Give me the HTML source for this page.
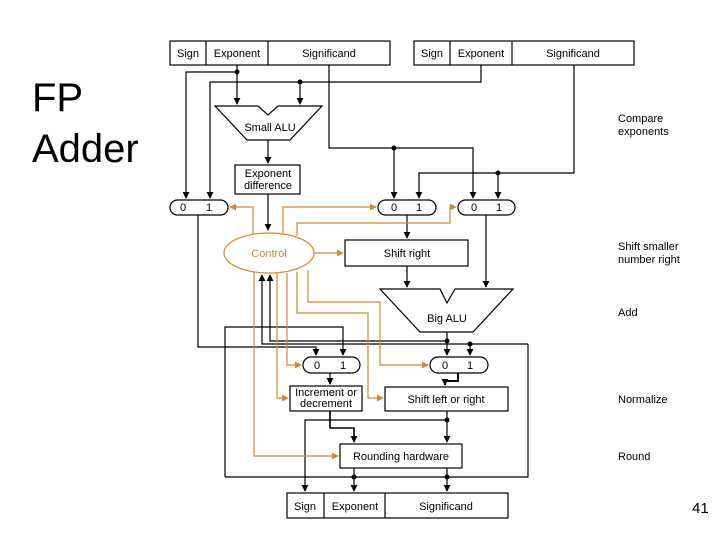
<!DOCTYPE html>
<html><head><meta charset="utf-8"><style>
html,body{margin:0;padding:0;background:#fff;}
svg{display:block;font-family:"Liberation Sans",sans-serif;}
</style></head><body>
<svg width="720" height="540" viewBox="0 0 720 540">
<defs>
<marker id="a" viewBox="0 0 8 8" refX="7" refY="4" markerWidth="7" markerHeight="7" markerUnits="userSpaceOnUse" orient="auto"><path d="M0,0L8,4L0,8z" fill="#000"/></marker>
<marker id="o" viewBox="0 0 8 8" refX="7" refY="4" markerWidth="7" markerHeight="7" markerUnits="userSpaceOnUse" orient="auto"><path d="M0,0L8,4L0,8z" fill="#d4882e"/></marker>
</defs>
<text x="32" y="111" font-size="40">FP</text>
<text x="32" y="162" font-size="40">Adder</text>
<g font-size="11">
<text x="618" y="122">Compare</text><text x="618" y="135">exponents</text>
<text x="618" y="250">Shift smaller</text><text x="618" y="263">number right</text>
<text x="618" y="316">Add</text>
<text x="618" y="403">Normalize</text>
<text x="618" y="460">Round</text>
</g>
<text x="692" y="513" font-size="15">41</text>

<g fill="none" stroke="#000" stroke-width="1.2">
<rect x="170" y="41" width="220" height="24"/><line x1="206" y1="41" x2="206" y2="65"/><line x1="268" y1="41" x2="268" y2="65"/>
<rect x="414" y="41" width="220" height="24"/><line x1="450" y1="41" x2="450" y2="65"/><line x1="512" y1="41" x2="512" y2="65"/>
<rect x="287" y="493" width="221" height="25"/><line x1="324" y1="493" x2="324" y2="518"/><line x1="385" y1="493" x2="385" y2="518"/>
<path d="M215,106 L258,106 L268,115 L278,106 L322,106 L290,140 L247,140 Z"/>
<rect x="235" y="165" width="65" height="29"/>
<rect x="170" y="200" width="58" height="15" rx="7.5"/>
<rect x="378" y="200" width="58" height="15" rx="7.5"/>
<rect x="458" y="200" width="57" height="15" rx="7.5"/>
<rect x="303" y="357" width="57" height="16" rx="8"/>
<rect x="430" y="357" width="58" height="16" rx="8"/>
<rect x="345" y="240" width="123" height="26"/>
<path d="M380,289 L440,289 L447,303 L455,289 L513,289 L473,332 L420,332 Z"/>
<rect x="290" y="386" width="72" height="25"/>
<rect x="385" y="387" width="123" height="24"/>
<rect x="340" y="444" width="122" height="24"/>
<path d="M237,65 V72 H186 V198" marker-end="url(#a)"/>
<path d="M237,72 V104" marker-end="url(#a)"/>
<path d="M481,65 V82 H210 V198" marker-end="url(#a)"/>
<path d="M300,82 V104" marker-end="url(#a)"/>
<path d="M268,140 V163" marker-end="url(#a)"/>
<path d="M268,194 V230" marker-end="url(#a)"/>
<path d="M329,65 V148 H473 V198" marker-end="url(#a)"/>
<path d="M394,148 V198" marker-end="url(#a)"/>
<path d="M574,65 V173 H419 V198" marker-end="url(#a)"/>
<path d="M498,173 V198" marker-end="url(#a)"/>
<path d="M407,215 V238" marker-end="url(#a)"/>
<path d="M407,266 V287" marker-end="url(#a)"/>
<path d="M486,215 V287" marker-end="url(#a)"/>
<path d="M198,215 V347 H316 V355" marker-end="url(#a)"/>
<path d="M225,477 V327 H343 V355" marker-end="url(#a)"/>
<path d="M447,332 V355" marker-end="url(#a)"/>
<path d="M447,341 H270 V275" marker-end="url(#a)"/>
<path d="M528,344 H262 V275" marker-end="url(#a)"/>
<path d="M470,344 V355" marker-end="url(#a)"/>
<path d="M528,344 V477 H225"/>
<path d="M458,373 V381 H445 V385" marker-end="url(#a)" stroke-width="2"/>
<path d="M330,373 V384" marker-end="url(#a)"/>
<path d="M330,411 V428 H354 V442" marker-end="url(#a)" stroke-width="1.6"/>
<path d="M447,411 V442" marker-end="url(#a)"/>
<path d="M447,420 H305 V491" marker-end="url(#a)"/>
<path d="M354,468 V491" marker-end="url(#a)"/>
<path d="M447,468 V491" marker-end="url(#a)"/>
</g>
<g fill="#000">
<circle cx="237" cy="72" r="2.5"/><circle cx="300" cy="82" r="2.5"/><circle cx="394" cy="148" r="2.5"/><circle cx="498" cy="173" r="2.5"/>
<circle cx="447" cy="341" r="2.5"/><circle cx="470" cy="344" r="2.5"/><circle cx="447" cy="420" r="2.5"/><circle cx="354" cy="477" r="2.5"/><circle cx="447" cy="477" r="2.5"/>
</g>
<g fill="none" stroke="#d4882e" stroke-width="1.2">
<ellipse cx="269" cy="253" rx="45" ry="20"/>
<path d="M253,234 V207 H230" marker-end="url(#o)"/>
<path d="M283,234 V207 H376" marker-end="url(#o)"/>
<path d="M297,236 V223 H450 V207 H456" marker-end="url(#o)"/>
<path d="M314,253 H343" marker-end="url(#o)"/>
<path d="M308,270 V302 H380 V365 H428" marker-end="url(#o)"/>
<path d="M297,272 V313 H368 V398 H383" marker-end="url(#o)"/>
<path d="M287,273 V365 H301" marker-end="url(#o)"/>
<path d="M277,273 V398 H288" marker-end="url(#o)"/>
<path d="M254,272 V456 H338" marker-end="url(#o)"/>
</g>
<g font-size="11" text-anchor="middle" fill="#000">
<text x="188" y="57">Sign</text><text x="237" y="57">Exponent</text><text x="329" y="57">Significand</text>
<text x="432" y="57">Sign</text><text x="481" y="57">Exponent</text><text x="573" y="57">Significand</text>
<text x="305" y="510">Sign</text><text x="355" y="510">Exponent</text><text x="446" y="510">Significand</text>
<text x="270" y="131">Small ALU</text>
<text x="268" y="177">Exponent</text><text x="268" y="189">difference</text>
<text x="183" y="211">0</text><text x="209" y="211">1</text>
<text x="394" y="211">0</text><text x="419" y="211">1</text>
<text x="474" y="211">0</text><text x="499" y="211">1</text>
<text x="317" y="369">0</text><text x="343" y="369">1</text>
<text x="445" y="369">0</text><text x="470" y="369">1</text>
<text x="407" y="257">Shift right</text>
<text x="447" y="322">Big ALU</text>
<text x="326" y="396">Increment or</text><text x="326" y="407">decrement</text>
<text x="446" y="403">Shift left or right</text>
<text x="401" y="460">Rounding hardware</text>
<text x="269" y="257" fill="#d4882e">Control</text>
</g>
</svg>
</body></html>
